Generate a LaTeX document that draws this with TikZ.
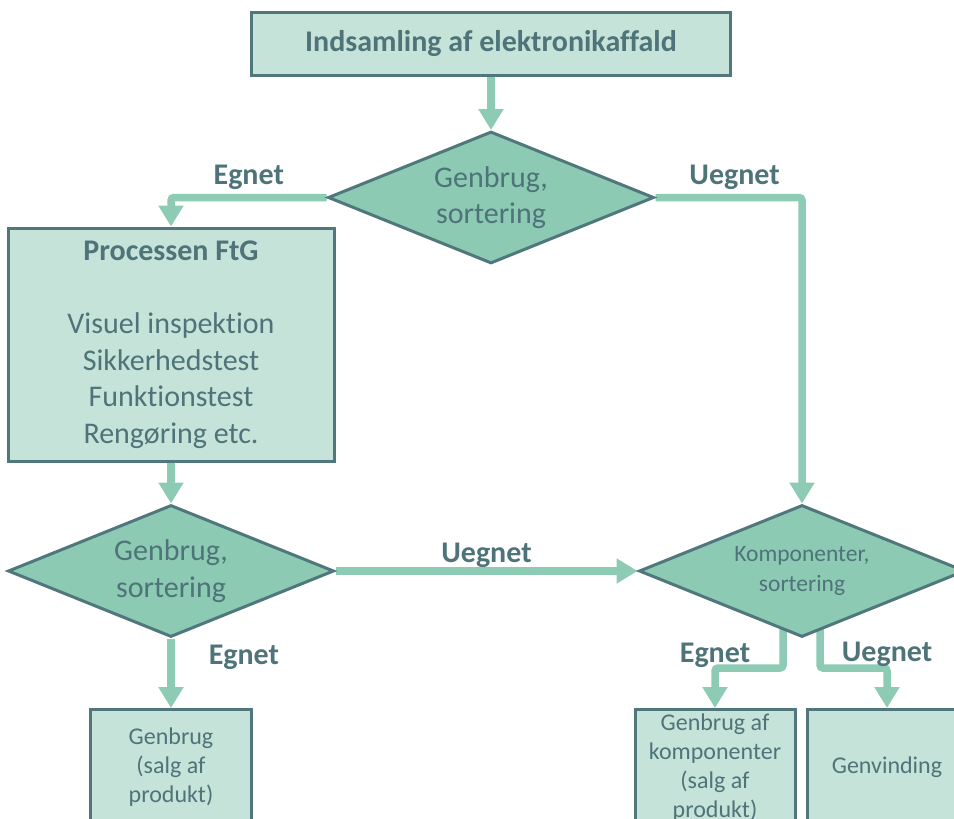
\documentclass[tikz,border=0pt]{standalone}
\usepackage{fontspec}
\setmainfont{Carlito}[Ligatures=NoCommon]
\usetikzlibrary{arrows.meta,shapes.geometric,backgrounds,positioning}
\definecolor{kant}{HTML}{4F777C}
\definecolor{tekst}{HTML}{4E7378}
\definecolor{kasse}{HTML}{C6E3D9}
\definecolor{rombe}{HTML}{8DCAB4}
\definecolor{pilfarve}{HTML}{8ECBB5}
\newcommand{\storfont}{\fontsize{30}{36.6}\selectfont}
\newcommand{\midfont}{\fontsize{24}{29}\selectfont}
\newcommand{\smafont}{\fontsize{23.5}{29.5}\selectfont}
\begin{document}
\begin{tikzpicture}[x=1pt, y=-1pt,
  boks/.style={draw=kant, fill=kasse, line width=3pt, text=tekst, align=center, inner sep=0pt},
  valg/.style={diamond, draw=kant, fill=rombe, line width=3pt, text=tekst, align=center,
    inner sep=0pt, aspect=2.47, minimum width=326pt, minimum height=132pt},
  pil/.style={draw=pilfarve, line width=7.5pt, rounded corners=3pt, -{Triangle[width=24pt,length=21pt]}},
  mrk/.style={text=tekst, inner sep=0pt, font=\storfont\bfseries}]
\useasboundingbox (0,0) rectangle (954,819);
\clip (0,0) rectangle (954,819);
\node[boks, minimum width=479pt, minimum height=63pt, font=\storfont\bfseries] (samling) at (491,43.5) {Indsamling af elektronikaffald};
\node[valg, font=\storfont] (valg1) at (491,197.5) {Genbrug,\\sortering};
\node[boks, minimum width=326pt, minimum height=233pt, font=\storfont] (ftg) at (171,344.5)
  {\textbf{Processen FtG}\\[36.6pt]Visuel inspektion\\Sikkerhedstest\\Funktionstest\\Rengøring etc.};
\node[valg, font=\storfont] (valg2) at (171,571) {Genbrug,\\sortering};
\node[valg, font=\smafont] (valg3) at (802,571) {Komponenter,\\sortering};
\node[boks, minimum width=161pt, minimum height=116pt, font=\midfont, anchor=north] (genbrug) at (171,708) {Genbrug\\(salg af\\produkt)};
\node[boks, minimum width=160pt, minimum height=116pt, font=\midfont, anchor=north] (komp) at (715,708) {Genbrug af\\komponenter\\(salg af\\produkt)};
\node[boks, minimum width=160pt, minimum height=116pt, font=\midfont, anchor=north] (genvind) at (887,708) {Genvinding};
\coordinate (knaek1) at (783,668);
\coordinate (knaek2) at (820,668);
\begin{scope}[on background layer]
\draw[pil] (samling) -- (valg1);
\draw[pil] (valg1.west) -| (ftg.north) node[mrk, pos=0.25, above=4pt] (egnet1) {Egnet};
\draw[pil] (valg1.east) -| (valg3.north) node[mrk, pos=0.27, above=4pt] (uegnet1) {Uegnet};
\draw[pil] (ftg) -- (valg2);
\draw[pil] (valg2) -- (valg3) node[mrk, midway, above=0pt] (uegnet2) {Uegnet};
\draw[pil] (valg2) -- (genbrug) node[mrk, pos=0.27, right=34pt] (egnet2) {Egnet};
\draw[pil] (valg3.center -| knaek1) -- (knaek1) -| (komp.north) node[mrk, pos=0.5, above=-3pt] (egnet3) {Egnet};
\draw[pil] (valg3.center -| knaek2) -- (knaek2) -| (genvind.north) node[mrk, pos=0.5, above=-2pt] (uegnet3) {Uegnet};
\end{scope}
\end{tikzpicture}
\end{document}
